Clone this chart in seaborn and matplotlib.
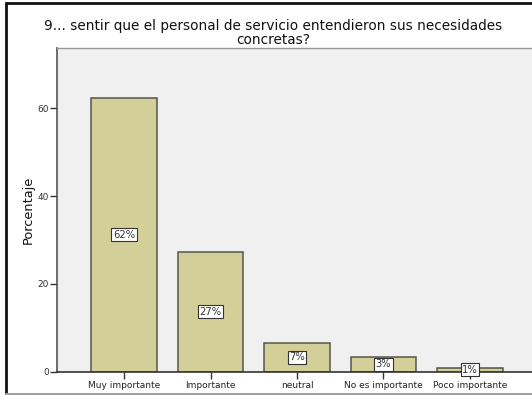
import matplotlib
matplotlib.use("Agg")
import matplotlib.pyplot as plt
from matplotlib.patches import Rectangle
import seaborn as sns
import pandas as pd

# Survey responses (percent of respondents)
categories = ["Muy importante", "Importante", "neutral", "No es importante", "Poco importante"]
percentages = [62.4, 27.2, 6.6, 3.3, 0.9]
y_ticks = [0, 20, 40, 60]
title = "9... sentir que el personal de servicio entendieron sus necesidades\nconcretas?"
y_label = "Porcentaje"

df = pd.DataFrame({"categoria": categories, "porcentaje": percentages})

sns.set_theme(style="white")
plt.rcParams["font.family"] = ["DejaVu Sans"]

W, H = 532, 395
fig = plt.figure(figsize=(W / 100, H / 100), dpi=100)
fig.patch.set_facecolor("white")

# Plot area in pixel coordinates (left, right, top, bottom)
left, right, top, bottom = 57, 537, 48, 371.5
ax = fig.add_axes([left / W, 1 - bottom / H, (right - left) / W, (bottom - top) / H])
ax.set_facecolor("#f0f0f0")

sns.barplot(data=df, x="categoria", y="porcentaje", order=categories,
            color="#d3cf98", edgecolor="#55554a", linewidth=1.1,
            width=0.76, saturation=1, ax=ax)

# Value labels in white boxes at the middle of each bar
for i, v in enumerate(percentages):
    ax.text(i, v / 2, f"{v:.0f}%", ha="center", va="center", fontsize=7.2,
            color="#333333",
            bbox=dict(boxstyle="square,pad=0.15", facecolor="white",
                      edgecolor="#333333", linewidth=0.8))

ax.set_xlim(-0.775, 4.775)
ax.set_ylim(0, 73.8)
ax.set_yticks(y_ticks)
ax.set_yticklabels([str(t) for t in y_ticks], fontsize=6.5, color="#333333")
ax.tick_params(axis="x", labelsize=6.5, colors="#333333", length=5, width=1,
               direction="out", bottom=True, pad=1.5)
ax.tick_params(axis="y", length=5, width=1, direction="out", left=True, pad=1,
               colors="#333333")
for lab in ax.get_xticklabels():
    lab.set_color("#222222")
ax.set_xlabel("")
ax.set_ylabel(y_label, fontsize=9.3, color="#111111", labelpad=1.5)

for side in ["top", "right"]:
    ax.spines[side].set_visible(False)
ax.spines["left"].set_color("#555555")
ax.spines["left"].set_linewidth(1.2)
ax.spines["bottom"].set_color("#333333")
ax.spines["bottom"].set_linewidth(1.2)

# Thin gray line on top of the plot area
fig.add_artist(plt.Line2D([left / W, 1], [1 - top / H, 1 - top / H],
                          color="#999999", linewidth=1.0, transform=fig.transFigure))

fig.text(273 / W, 1 - 33 / H, title, ha="center", va="center",
         fontsize=9.8, color="#111111", linespacing=0.92)

# Outer frame
fig.add_artist(Rectangle((5.5 / W, 1.5 / H), 1.2, 1 - 4 / H,
                         transform=fig.transFigure, fill=False,
                         edgecolor="#111111", linewidth=2.0))
fig.add_artist(plt.Line2D([5.5 / W, 1], [1.5 / H, 1.5 / H], color="#bbbbbb",
                          linewidth=1.2, transform=fig.transFigure))

fig.savefig("out.png", dpi=100)
